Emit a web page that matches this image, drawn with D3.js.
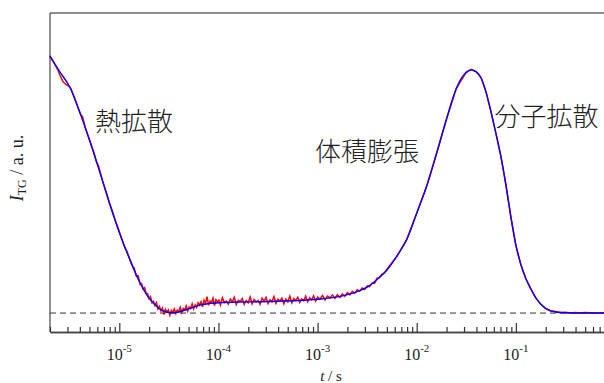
<!DOCTYPE html>
<html>
<head>
<meta charset="utf-8">
<script src="https://cdn.jsdelivr.net/npm/d3@7"></script>
<style>
  body { margin: 0; background: #fff; }
  svg { display: block; }
</style>
</head>
<body>
<svg id="chart" width="604" height="383"></svg>
<script>
// log10(t / s) and signal
var fitCurve = [
  [-5.700, 1.005], [-5.600, 0.942], [-5.500, 0.883], [-5.400, 0.785], [-5.300, 0.675],
  [-5.200, 0.555], [-5.100, 0.430], [-5.000, 0.315], [-4.900, 0.215], [-4.800, 0.125],
  [-4.700, 0.058], [-4.650, 0.036], [-4.600, 0.018], [-4.550, 0.007], [-4.500, 0.002],
  [-4.450, 0.001], [-4.400, 0.004], [-4.350, 0.010], [-4.300, 0.016], [-4.250, 0.023],
  [-4.200, 0.030], [-4.100, 0.037], [-4.000, 0.040], [-3.800, 0.043], [-3.600, 0.044],
  [-3.400, 0.046], [-3.200, 0.049], [-3.000, 0.054], [-2.800, 0.063], [-2.700, 0.072],
  [-2.600, 0.084], [-2.500, 0.101], [-2.400, 0.131], [-2.300, 0.168], [-2.200, 0.222],
  [-2.100, 0.288], [-2.000, 0.390], [-1.900, 0.495], [-1.800, 0.623], [-1.700, 0.757],
  [-1.600, 0.878], [-1.500, 0.940], [-1.450, 0.949], [-1.400, 0.942], [-1.350, 0.918],
  [-1.300, 0.862], [-1.250, 0.785], [-1.200, 0.700], [-1.150, 0.610], [-1.100, 0.500],
  [-1.050, 0.375], [-1.000, 0.265], [-0.950, 0.190], [-0.900, 0.135], [-0.850, 0.095],
  [-0.800, 0.060], [-0.750, 0.035], [-0.700, 0.018], [-0.600, 0.004], [-0.500, 0.001],
  [-0.300, 0.000], [0.000, 0.000]
];

var measured = [
  [-5.700, 1.002], [-5.660, 0.978], [-5.620, 0.950], [-5.600, 0.930], [-5.570, 0.905],
  [-5.540, 0.893], [-5.520, 0.890], [-5.490, 0.878], [-5.460, 0.850], [-5.420, 0.808],
  [-5.390, 0.776], [-5.370, 0.766], [-5.340, 0.720], [-5.300, 0.676], [-5.260, 0.632],
  [-5.230, 0.590], [-5.210, 0.575], [-5.170, 0.518], [-5.130, 0.470], [-5.100, 0.432],
  [-5.070, 0.398], [-5.040, 0.362], [-5.010, 0.330], [-4.980, 0.296], [-4.950, 0.262],
  [-4.920, 0.238], [-4.900, 0.216], [-4.880, 0.196], [-4.860, 0.180], [-4.850, 0.176],
  [-4.830, 0.146], [-4.810, 0.146], [-4.790, 0.112], [-4.775, 0.115], [-4.760, 0.094],
  [-4.745, 0.099], [-4.730, 0.078], [-4.715, 0.076], [-4.700, 0.056], [-4.685, 0.064],
  [-4.670, 0.040], [-4.655, 0.046], [-4.640, 0.030], [-4.625, 0.041], [-4.610, 0.016],
  [-4.595, 0.026], [-4.580, 0.008], [-4.565, 0.020], [-4.550, -0.006], [-4.535, 0.015],
  [-4.520, 0.004], [-4.505, 0.012], [-4.490, -0.008], [-4.475, 0.010], [-4.460, 0.002],
  [-4.445, 0.016], [-4.430, -0.002], [-4.415, 0.012], [-4.400, 0.006], [-4.385, 0.022],
  [-4.370, 0.002], [-4.355, 0.018], [-4.340, 0.012], [-4.325, 0.028], [-4.310, 0.008],
  [-4.295, 0.024], [-4.280, 0.018], [-4.265, 0.036], [-4.250, 0.016], [-4.235, 0.032],
  [-4.220, 0.022], [-4.205, 0.040], [-4.190, 0.031], [-4.175, 0.044], [-4.160, 0.024],
  [-4.145, 0.050], [-4.130, 0.038], [-4.115, 0.064], [-4.100, 0.030], [-4.085, 0.047],
  [-4.070, 0.040], [-4.055, 0.058], [-4.040, 0.029], [-4.025, 0.052], [-4.010, 0.044],
  [-3.995, 0.050], [-3.980, 0.031], [-3.960, 0.060], [-3.940, 0.041], [-3.920, 0.047],
  [-3.900, 0.035], [-3.880, 0.055], [-3.860, 0.044], [-3.840, 0.062], [-3.820, 0.033],
  [-3.800, 0.050], [-3.780, 0.045], [-3.760, 0.057], [-3.740, 0.034], [-3.720, 0.049],
  [-3.700, 0.040], [-3.680, 0.063], [-3.660, 0.036], [-3.640, 0.053], [-3.620, 0.043],
  [-3.600, 0.049], [-3.580, 0.034], [-3.560, 0.058], [-3.540, 0.046], [-3.520, 0.061],
  [-3.500, 0.037], [-3.480, 0.052], [-3.460, 0.044], [-3.440, 0.064], [-3.420, 0.038],
  [-3.400, 0.054], [-3.380, 0.047], [-3.360, 0.058], [-3.340, 0.036], [-3.320, 0.055],
  [-3.300, 0.044], [-3.280, 0.066], [-3.260, 0.040], [-3.240, 0.057], [-3.220, 0.049],
  [-3.200, 0.062], [-3.180, 0.041], [-3.160, 0.055], [-3.140, 0.048], [-3.120, 0.066],
  [-3.100, 0.044], [-3.080, 0.060], [-3.060, 0.052], [-3.040, 0.067], [-3.020, 0.047],
  [-3.000, 0.062], [-2.975, 0.055], [-2.950, 0.069], [-2.925, 0.051], [-2.900, 0.066],
  [-2.875, 0.059], [-2.850, 0.071], [-2.825, 0.057], [-2.800, 0.072], [-2.775, 0.061],
  [-2.750, 0.075], [-2.725, 0.065], [-2.700, 0.080], [-2.675, 0.071], [-2.650, 0.085],
  [-2.625, 0.078], [-2.600, 0.091], [-2.575, 0.085], [-2.550, 0.098], [-2.525, 0.092],
  [-2.500, 0.106], [-2.475, 0.103], [-2.450, 0.117], [-2.425, 0.116], [-2.400, 0.136],
  [-2.375, 0.139], [-2.350, 0.152], [-2.325, 0.157], [-2.300, 0.171], [-2.200, 0.222],
  [-2.100, 0.288], [-2.000, 0.390], [-1.900, 0.495], [-1.800, 0.623], [-1.700, 0.757],
  [-1.600, 0.878], [-1.500, 0.941], [-1.450, 0.952], [-1.400, 0.943], [-1.350, 0.918],
  [-1.300, 0.862], [-1.250, 0.785], [-1.200, 0.700], [-1.150, 0.610], [-1.100, 0.500],
  [-1.050, 0.375], [-1.000, 0.265], [-0.950, 0.190], [-0.900, 0.135], [-0.850, 0.095],
  [-0.800, 0.060], [-0.750, 0.035], [-0.700, 0.018], [-0.650, 0.008], [-0.600, 0.006],
  [-0.550, 0.002], [-0.500, 0.003], [-0.450, 0.000], [-0.400, 0.002], [-0.350, 0.000],
  [-0.300, 0.002], [-0.200, 0.000], [-0.100, 0.001], [0.000, 0.000]
];

var majorTicks = [1e-5, 1e-4, 1e-3, 1e-2, 1e-1];
var majorExp = ["-5", "-4", "-3", "-2", "-1"];

var labels = [
  {text: "熱拡散", t: 5.7e-6, v: 0.71},
  {text: "体積膨張", t: 9.4e-4, v: 0.595},
  {text: "分子拡散", t: 6.1e-2, v: 0.73}
];

var svg = d3.select("#chart");
var plotLeft = 50, plotRight = 615, plotTop = 13, plotBottom = 332;

var x = d3.scaleLog().domain([2e-6, 1]).range([plotLeft, plotRight]);
var y = d3.scaleLinear().domain([-0.074, 1.172]).range([plotBottom, plotTop]);

var serif = "'Liberation Serif', 'DejaVu Serif', serif";

// frame
svg.append("line")
    .attr("x1", plotLeft).attr("x2", 604)
    .attr("y1", plotTop).attr("y2", plotTop)
    .attr("stroke", "#666").attr("stroke-width", 1.3);
svg.append("line")
    .attr("x1", plotLeft).attr("x2", plotLeft)
    .attr("y1", plotTop).attr("y2", plotBottom)
    .attr("stroke", "#555").attr("stroke-width", 1.3);

// baseline
svg.append("line")
    .attr("x1", plotLeft).attr("x2", 604)
    .attr("y1", y(0)).attr("y2", y(0))
    .attr("stroke", "#333").attr("stroke-width", 1)
    .attr("stroke-dasharray", "6,4");

var dataLine = d3.line()
    .x(function(d) { return x(Math.pow(10, d[0])); })
    .y(function(d) { return y(d[1]); });

var fitLine = d3.line()
    .x(function(d) { return x(Math.pow(10, d[0])); })
    .y(function(d) { return y(d[1]); })
    .curve(d3.curveMonotoneX);

svg.append("path")
    .datum(measured)
    .attr("d", dataLine)
    .attr("fill", "none")
    .attr("stroke", "#ff0000")
    .attr("stroke-width", 1.5);

svg.append("path")
    .datum(fitCurve)
    .attr("d", fitLine)
    .attr("fill", "none")
    .attr("stroke", "#0000ff")
    .attr("stroke-width", 1.4);

// x axis, ticks pointing inward
var minorTicks = x.ticks().filter(function(t) {
    return majorTicks.every(function(m) { return Math.abs(t / m - 1) > 1e-6; });
});

var gMinor = svg.append("g")
    .attr("transform", "translate(0," + plotBottom + ")")
    .call(d3.axisBottom(x).tickValues(minorTicks).tickSizeInner(-5).tickSizeOuter(0).tickFormat(""));
var gMajor = svg.append("g")
    .attr("transform", "translate(0," + plotBottom + ")")
    .call(d3.axisBottom(x).tickValues(majorTicks).tickSizeInner(-9).tickSizeOuter(0).tickFormat(""));
[gMinor, gMajor].forEach(function(g) {
    g.select(".domain").attr("stroke", "#444").attr("stroke-width", 1.3);
    g.selectAll(".tick line").attr("stroke", "#333").attr("stroke-width", 1.2);
});

var tickText = svg.append("g").selectAll("text")
    .data(majorTicks)
    .enter().append("text")
    .attr("x", function(d) { return x(d); })
    .attr("y", 360)
    .attr("text-anchor", "middle")
    .attr("font-family", serif)
    .attr("font-size", 16)
    .attr("fill", "#222");
tickText.append("tspan").text("10");
tickText.append("tspan")
    .attr("font-size", 11)
    .attr("dy", -8)
    .text(function(d, i) { return majorExp[i]; });

// axis titles
var xt = svg.append("text")
    .attr("x", 331).attr("y", 381)
    .attr("text-anchor", "middle")
    .attr("font-family", serif)
    .attr("font-size", 15)
    .attr("fill", "#222");
xt.append("tspan").attr("font-style", "italic").text("t");
xt.append("tspan").text(" / s");

var yt = svg.append("text")
    .attr("transform", "translate(23,168) rotate(-90)")
    .attr("text-anchor", "middle")
    .attr("font-family", serif)
    .attr("font-size", 18)
    .attr("fill", "#222");
yt.append("tspan").attr("font-style", "italic").text("I");
yt.append("tspan").attr("font-size", 12).attr("dy", 3).text("TG");
yt.append("tspan").attr("dy", -3).text(" / a. u.");

// annotations
svg.append("g").selectAll("text")
    .data(labels)
    .enter().append("text")
    .attr("x", function(d) { return x(d.t); })
    .attr("y", function(d) { return y(d.v); })
    .attr("font-family", "'Noto Sans CJK JP', sans-serif")
    .attr("font-weight", 300)
    .attr("font-size", 26)
    .attr("fill", "#222")
    .text(function(d) { return d.text; });
</script>
</body>
</html>
